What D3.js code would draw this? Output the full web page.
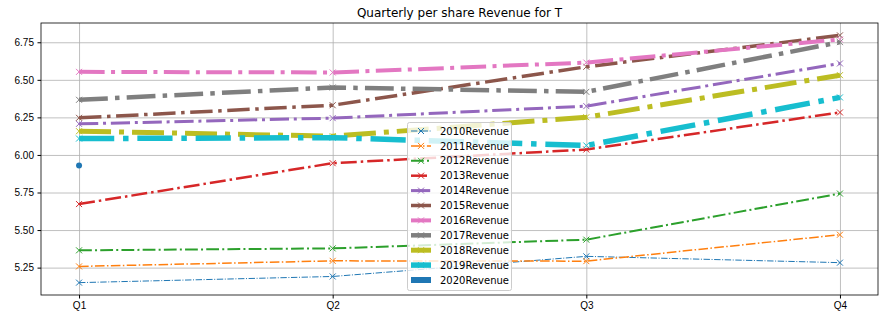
<!DOCTYPE html>
<html lang="en">
<head>
<meta charset="utf-8">
<title>Quarterly per share Revenue for T</title>
<script src="https://d3js.org/d3.v7.min.js"></script>
<style>
  body { margin: 0; background: #fff; }
  svg { display: block; font-family: "DejaVu Sans", sans-serif; }
  .axis path, .axis line { stroke: #000; }
  .axis text { font-size: 10px; fill: #000; }
  .grid line { stroke: #b0b0b0; stroke-width: 0.8; }
  .grid path { display: none; }
</style>
</head>
<body>
<svg id="chart"></svg>
<script>
const quarters = ["Q1", "Q2", "Q3", "Q4"];
const years = ["2010", "2011", "2012", "2013", "2014", "2015", "2016", "2017", "2018", "2019", "2020"];
const rev2010 = [5.150, 5.191, 5.325, 5.283];
const rev2011 = [5.258, 5.295, 5.293, 5.469];
const rev2012 = [5.365, 5.378, 5.436, 5.743];
const rev2013 = [5.673, 5.945, 6.036, 6.283];
const rev2014 = [6.207, 6.245, 6.325, 6.609];
const rev2015 = [6.247, 6.331, 6.587, 6.796];
const rev2016 = [6.553, 6.549, 6.615, 6.769];
const rev2017 = [6.367, 6.449, 6.420, 6.751];
const rev2018 = [6.158, 6.125, 6.251, 6.531];
const rev2019 = [6.109, 6.115, 6.063, 6.383];
const rev2020 = [5.929];
const yTicks = [5.25, 5.50, 5.75, 6.00, 6.25, 6.50, 6.75];

const revenues = [rev2010, rev2011, rev2012, rev2013, rev2014, rev2015,
                  rev2016, rev2017, rev2018, rev2019, rev2020];
const colors = ["#1f77b4", "#ff7f0e", "#2ca02c", "#d62728", "#9467bd", "#8c564b",
                "#e377c2", "#7f7f7f", "#bcbd22", "#17becf", "#1f77b4"];

const width = 884, height = 322;
const margin = {top: 23, right: 6, bottom: 27, left: 41};

const svg = d3.select("#chart").attr("width", width).attr("height", height);

// matplotlib style 5% padding on both axes
const x = d3.scaleLinear().domain([-0.15, 3.15]).range([margin.left, width - margin.right]);
const allVals = revenues.flat();
const yMin = d3.min(allVals), yMax = d3.max(allVals);
const pad = (yMax - yMin) * 0.05;
const y = d3.scaleLinear().domain([yMin - pad, yMax + pad]).range([height - margin.bottom, margin.top]);

// grid
svg.append("g").attr("class", "grid")
  .attr("transform", `translate(0,${height - margin.bottom})`)
  .call(d3.axisBottom(x).tickValues([0, 1, 2, 3]).tickSize(-(height - margin.top - margin.bottom)).tickFormat(""));
svg.append("g").attr("class", "grid")
  .attr("transform", `translate(${margin.left},0)`)
  .call(d3.axisLeft(y).tickValues(yTicks).tickSize(-(width - margin.left - margin.right)).tickFormat(""));

// dash-dot pattern scaled by line width, like matplotlib '-.'
const dashDot = lw => [6.4, 1.6, 1, 1.6].map(v => v * lw).join(",");
const lineWidth = i => 1 + 0.5 * i;

const line = d3.line().x((d, i) => x(i)).y(d => y(d));

const series = svg.append("g");
revenues.forEach((vals, k) => {
  const g = series.append("g");
  const lw = lineWidth(k);
  if (vals.length > 1) {
    g.append("path")
      .attr("d", line(vals))
      .attr("fill", "none")
      .attr("stroke", colors[k])
      .attr("stroke-width", lw)
      .attr("stroke-dasharray", dashDot(lw));
  }
  vals.forEach((v, i) => {
    if (k === 10) {
      g.append("circle").attr("cx", x(i)).attr("cy", y(v)).attr("r", 3).attr("fill", colors[k]);
    } else {
      g.append("path")
        .attr("d", `M${x(i) - 3},${y(v) - 3}L${x(i) + 3},${y(v) + 3}M${x(i) - 3},${y(v) + 3}L${x(i) + 3},${y(v) - 3}`)
        .attr("stroke", colors[k]).attr("stroke-width", 1).attr("fill", "none");
    }
  });
});

// axes
svg.append("g").attr("class", "axis")
  .attr("transform", `translate(0,${height - margin.bottom})`)
  .call(d3.axisBottom(x).tickValues([0, 1, 2, 3]).tickSize(3.5).tickPadding(3.5).tickFormat(i => quarters[i]))
  .call(g => g.select(".domain").remove());
svg.append("g").attr("class", "axis")
  .attr("transform", `translate(${margin.left},0)`)
  .call(d3.axisLeft(y).tickValues(yTicks).tickSize(3.5).tickPadding(3.5).tickFormat(d3.format(".2f")))
  .call(g => g.select(".domain").remove());

svg.append("rect")
  .attr("x", margin.left).attr("y", margin.top)
  .attr("width", width - margin.left - margin.right)
  .attr("height", height - margin.top - margin.bottom)
  .attr("fill", "none").attr("stroke", "#000").attr("stroke-width", 0.8);

svg.append("text")
  .attr("x", (margin.left + width - margin.right) / 2)
  .attr("y", margin.top - 6)
  .attr("text-anchor", "middle")
  .attr("font-size", 12)
  .text("Quarterly per share Revenue for T");

// legend
const legend = svg.append("g").attr("transform", "translate(407,122)");
legend.append("rect")
  .attr("x", 0.5).attr("y", 0.5).attr("width", 104).attr("height", 168)
  .attr("rx", 2)
  .attr("fill", "#fff").attr("fill-opacity", 0.8)
  .attr("stroke", "#cccccc").attr("stroke-width", 1);

years.forEach((yr, k) => {
  const cy = 9 + k * 14.9;
  const lw = lineWidth(k);
  const item = legend.append("g");
  item.append("line")
    .attr("x1", 4).attr("x2", 24).attr("y1", cy).attr("y2", cy)
    .attr("stroke", colors[k]).attr("stroke-width", lw)
    .attr("stroke-dasharray", dashDot(lw));
  if (k === 10) {
    item.append("circle").attr("cx", 14).attr("cy", cy).attr("r", 3).attr("fill", colors[k]);
  } else {
    item.append("path")
      .attr("d", `M11,${cy - 3}L17,${cy + 3}M11,${cy + 3}L17,${cy - 3}`)
      .attr("stroke", colors[k]).attr("stroke-width", 1);
  }
  item.append("text")
    .attr("x", 33).attr("y", cy + 3.6)
    .attr("font-size", 10)
    .text(yr + "Revenue");
});
</script>
</body>
</html>
